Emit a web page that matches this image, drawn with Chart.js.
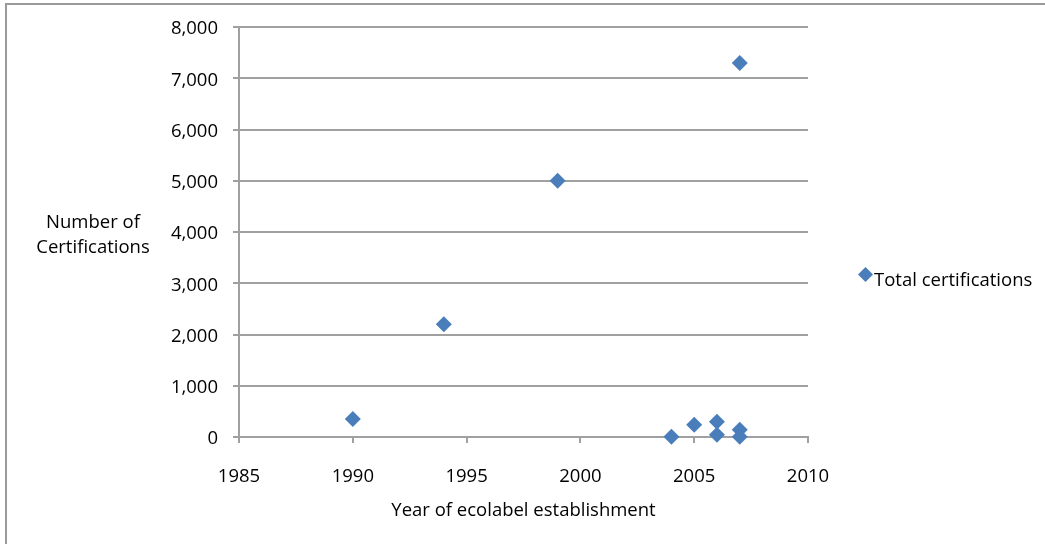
<!DOCTYPE html>
<html>
<head>
<meta charset="utf-8">
<script src="https://cdn.jsdelivr.net/npm/chart.js@4.4.1/dist/chart.umd.min.js"></script>
<style>
  html, body { margin: 0; padding: 0; background: #fff; }
  #wrap { position: relative; width: 1045px; height: 544px; }
</style>
</head>
<body>
<div id="wrap"><canvas id="c" width="1045" height="544"></canvas></div>
<script>
const seriesName = "Total certifications";
const years = [1990, 1994, 1999, 2004, 2005, 2006, 2006, 2007, 2007, 2007];
const certifications = [350, 2200, 5000, 5, 240, 300, 45, 7300, 140, 5];
const yTitleLines = ["Number of", "Certifications"];
const xTitle = "Year of ecolabel establishment";

const FONT = "'Open Sans', 'Noto Sans', sans-serif";
const FS = 18.5;
const BLUE = '#4A7EBB';
const GRID = '#A0A0A0';
const TEXT = '#000000';

const points = years.map((x, i) => ({ x: x, y: certifications[i] }));

const extras = {
  id: 'extras',
  beforeDraw(chart) {
    const ctx = chart.ctx;
    ctx.save();
    ctx.strokeStyle = '#9a9a9a';
    ctx.lineWidth = 2;
    ctx.beginPath();
    ctx.moveTo(6, 544);
    ctx.lineTo(6, 4);
    ctx.lineTo(1045, 4);
    ctx.stroke();
    ctx.restore();
  },
  afterDraw(chart) {
    const ctx = chart.ctx;
    ctx.save();
    ctx.fillStyle = TEXT;
    ctx.font = FS + 'px ' + FONT;
    ctx.textAlign = 'center';
    ctx.textBaseline = 'middle';
    ctx.fillText(yTitleLines[0], 93, 223);
    ctx.fillText(yTitleLines[1], 93, 248);
    // legend
    const cx = 865.5, cy = 274.5, r = 7.5;
    ctx.fillStyle = BLUE;
    ctx.beginPath();
    ctx.moveTo(cx, cy - r);
    ctx.lineTo(cx + r, cy);
    ctx.lineTo(cx, cy + r);
    ctx.lineTo(cx - r, cy);
    ctx.closePath();
    ctx.fill();
    ctx.fillStyle = TEXT;
    ctx.textAlign = 'left';
    ctx.fillText(seriesName, 874, 281);
    ctx.restore();
  }
};

new Chart(document.getElementById('c'), {
  type: 'scatter',
  data: {
    datasets: [{
      label: seriesName,
      data: points,
      backgroundColor: BLUE,
      borderColor: BLUE,
      pointStyle: 'rectRot',
      pointRadius: 8,
      pointHoverRadius: 8,
      borderWidth: 0,
      clip: false
    }]
  },
  options: {
    responsive: false,
    animation: false,
    events: [],
    layout: { padding: { left: 0, right: 237, top: 27, bottom: 0 } },
    plugins: {
      legend: { display: false },
      tooltip: { enabled: false },
      title: { display: false }
    },
    scales: {
      x: {
        type: 'linear',
        min: 1985, max: 2010,
        afterFit(s) { s.height = 107; },
        ticks: {
          stepSize: 5,
          padding: 23,
          color: TEXT,
          font: { family: FONT, size: FS },
          callback: v => String(v),
          maxRotation: 0
        },
        grid: { drawOnChartArea: false, drawTicks: true, tickLength: 6, color: GRID, lineWidth: 2 },
        border: { display: true, color: GRID, width: 2 },
        title: {
          display: true,
          text: xTitle,
          color: TEXT,
          font: { family: FONT, size: FS },
          padding: { top: 0, bottom: 22 }
        }
      },
      y: {
        type: 'linear',
        min: 0, max: 8000,
        afterFit(s) { s.width = 239; },
        ticks: {
          stepSize: 1000,
          padding: 15,
          labelOffset: 2,
          color: TEXT,
          font: { family: FONT, size: FS },
          callback: v => v.toLocaleString('en-US')
        },
        grid: { drawOnChartArea: true, drawTicks: true, tickLength: 6, color: GRID, lineWidth: 2 },
        border: { display: true, color: GRID, width: 2 }
      }
    }
  },
  plugins: [extras]
});
</script>
</body>
</html>
